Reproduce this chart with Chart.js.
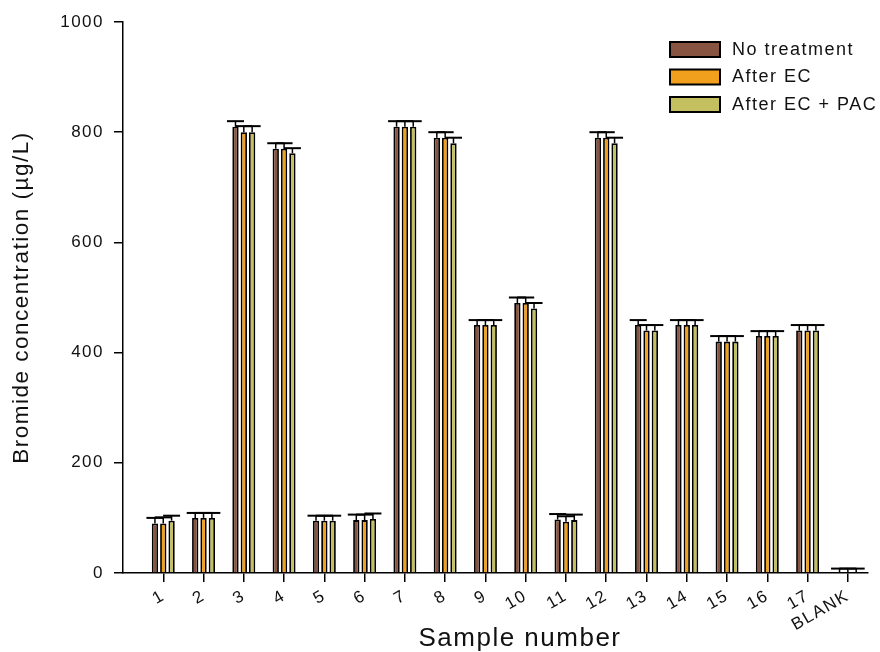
<!DOCTYPE html>
<html>
<head>
<meta charset="utf-8">
<script src="https://cdn.jsdelivr.net/npm/chart.js@4.4.0/dist/chart.umd.min.js"></script>
<style>
  html, body { margin: 0; padding: 0; background: #fff; }
  #wrap { width: 880px; height: 652px; }
</style>
</head>
<body>
<div id="wrap"><canvas id="bromideChart" width="880" height="652"></canvas></div>
<script>
// values (µg/L), one entry per sample
const sampleLabels = ['1', '2', '3', '4', '5', '6', '7', '8', '9', '10', '11', '12', '13', '14', '15', '16', '17', 'BLANK'];
const noTreatment = [90, 100, 810, 770, 95, 96, 810, 790, 450, 490, 97, 790, 450, 450, 420, 430, 440, 0];
const afterEC = [90, 100, 800, 770, 95, 96, 810, 790, 450, 490, 93, 790, 440, 450, 420, 430, 440, 0];
const afterECPAC = [95, 100, 800, 762, 95, 98, 810, 780, 450, 480, 96, 780, 440, 450, 420, 430, 440, 0];
const noTreatmentErr = [10, 9, 10, 10, 9, 10, 10, 10, 9, 10, 10, 10, 9, 9, 10, 9, 10, 8];
const afterECErr = [11, 9, 11, 10, 9, 10, 10, 10, 9, 10, 10, 10, 10, 9, 10, 9, 10, 8];
const afterECPACErr = [9, 9, 11, 9, 9, 10, 10, 10, 9, 10, 10, 10, 10, 9, 10, 9, 10, 8];
const yTicks = [0, 200, 400, 600, 800, 1000];

const FONT = "'Liberation Sans', Arial, sans-serif";
const SPACING = '1.5px';

function toPoints(values) {
    return values.map((v, i) => ({ x: i, y: v }));
}

// wide letter spacing like the original export
const spacingPlugin = {
    id: 'spacing',
    beforeUpdate(chart) { chart.ctx.letterSpacing = SPACING; },
    beforeLayout(chart) { chart.ctx.letterSpacing = SPACING; },
    beforeDraw(chart) { chart.ctx.letterSpacing = SPACING; }
};

const errorBars = {
    id: 'errorBars',
    afterDatasetsDraw(chart) {
        const ctx = chart.ctx;
        const yScale = chart.scales.y;
        ctx.save();
        ctx.strokeStyle = '#000';
        chart.data.datasets.forEach((ds, di) => {
            const meta = chart.getDatasetMeta(di);
            meta.data.forEach((bar, i) => {
                const top = yScale.getPixelForValue(ds.data[i].y + ds.errors[i]);
                ctx.lineWidth = 1.5;
                ctx.beginPath();
                ctx.moveTo(bar.x, bar.y);
                ctx.lineTo(bar.x, top);
                ctx.stroke();
                ctx.lineWidth = 2;
                ctx.beginPath();
                ctx.moveTo(bar.x - 8.5, top);
                ctx.lineTo(bar.x + 8.5, top);
                ctx.stroke();
            });
        });
        ctx.restore();
    }
};

// legend boxes + x axis title (the title sits right of centre in the original)
const boxLegend = {
    id: 'boxLegend',
    afterDraw(chart) {
        const ctx = chart.ctx;
        const area = chart.chartArea;
        const left = area.right - 198;
        ctx.save();
        ctx.font = '18px ' + FONT;
        ctx.textBaseline = 'middle';
        ctx.textAlign = 'left';
        chart.data.datasets.forEach((ds, i) => {
            const top = area.top + 20 + i * 27.5;
            ctx.fillStyle = ds.backgroundColor;
            ctx.fillRect(left, top, 50, 15);
            ctx.strokeStyle = '#000';
            ctx.lineWidth = 2;
            ctx.strokeRect(left, top, 50, 15);
            ctx.fillStyle = '#111';
            ctx.fillText(ds.label, left + 62, top + 8);
        });

        ctx.font = '26px ' + FONT;
        ctx.textAlign = 'center';
        ctx.textBaseline = 'alphabetic';
        ctx.fillText('Sample number', area.left + 397, 646);
        ctx.restore();
    }
};

const ctx = document.getElementById('bromideChart').getContext('2d');

new Chart(ctx, {
    type: 'bar',
    data: {
        datasets: [{
            label: 'No treatment',
            data: toPoints(noTreatment),
            errors: noTreatmentErr,
            backgroundColor: 'rgb(134, 84, 64)',
            borderColor: '#000',
            borderWidth: 1.8
        }, {
            label: 'After EC',
            data: toPoints(afterEC),
            errors: afterECErr,
            backgroundColor: 'rgb(240, 160, 28)',
            borderColor: '#000',
            borderWidth: 1.8
        }, {
            label: 'After EC + PAC',
            data: toPoints(afterECPAC),
            errors: afterECPACErr,
            backgroundColor: 'rgb(196, 192, 96)',
            borderColor: '#000',
            borderWidth: 1.8
        }]
    },
    options: {
        responsive: false,
        animation: false,
        devicePixelRatio: 1,
        categoryPercentage: 0.62,
        barPercentage: 0.76,
        layout: { padding: { top: 22, right: 12, left: 0, bottom: 0 } },
        plugins: {
            legend: { display: false },
            tooltip: { enabled: false }
        },
        scales: {
            x: {
                type: 'linear',
                min: -1,
                max: 17.5,
                offset: false,
                afterBuildTicks: scale => {
                    scale.ticks = sampleLabels.map((_, i) => ({ value: i }));
                },
                afterFit: scale => { scale.height = 79; },
                grid: { offset: false, drawOnChartArea: false, tickLength: 9, color: '#000', lineWidth: 1.5 },
                border: { display: true, color: '#000', width: 1.5 },
                ticks: {
                    autoSkip: false,
                    minRotation: 30,
                    maxRotation: 30,
                    padding: 4,
                    color: '#111',
                    font: { family: FONT, size: 17 },
                    callback: value => sampleLabels[value]
                },
                title: { display: false }
            },
            y: {
                min: 0,
                max: 1000,
                afterBuildTicks: scale => {
                    scale.ticks = yTicks.map(v => ({ value: v }));
                },
                afterFit: scale => { scale.width = 123; },
                grid: { drawOnChartArea: false, tickLength: 9, color: '#000', lineWidth: 1.5 },
                border: { display: true, color: '#000', width: 1.5 },
                ticks: {
                    padding: 10,
                    color: '#111',
                    font: { family: FONT, size: 17 },
                    callback: value => String(value)
                },
                title: {
                    display: true,
                    text: 'Bromide concentration (µg/L)',
                    color: '#111',
                    font: { family: FONT, size: 22.5 },
                    padding: { top: 8, bottom: 0 }
                }
            }
        }
    },
    plugins: [spacingPlugin, errorBars, boxLegend]
});
</script>
</body>
</html>
